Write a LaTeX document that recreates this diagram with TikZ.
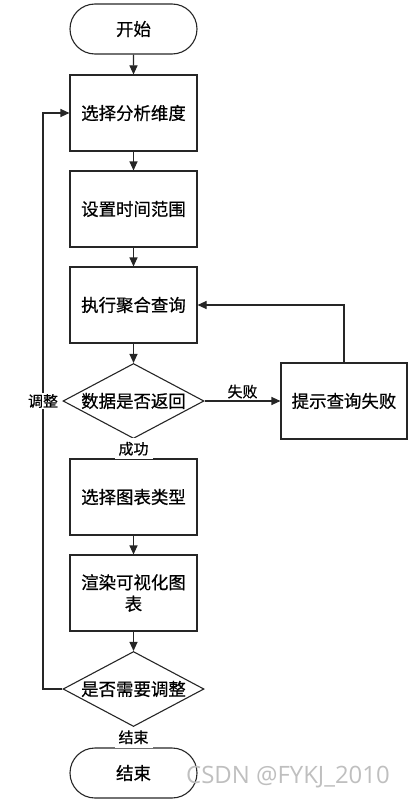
\documentclass[tikz,border=0pt]{standalone}
\usepackage{fontspec}
\newfontfamily\cjk[FakeBold=0.6]{Noto Sans CJK SC}
\newfontfamily\wmfont{Open Sans}
\usetikzlibrary{shapes.geometric,shapes.misc,arrows.meta}
\begin{document}
\begin{tikzpicture}[x=1bp,y=-1bp,
  every node/.style={font=\cjk},
  base/.style={draw=black!85, line width=1.1bp, font=\cjk\fontsize{17.5}{21.5}\selectfont, inner sep=0pt, align=center},
  term/.style={base, rounded rectangle, minimum width=127bp, minimum height=50bp},
  procbox/.style={base, rectangle, minimum width=127bp, minimum height=76bp},
  decide/.style={base, diamond, aspect=1.88, minimum width=141bp, minimum height=75bp, text width=110bp},
  lbl/.style={font=\cjk\fontsize{15}{17}\selectfont, inner sep=1bp, fill=white},
  conn/.style={draw=black!85, line width=1.1bp},
  arr/.style={conn, -{Triangle[length=9bp,width=8bp]}}
]
\useasboundingbox (0,0) rectangle (410,802);
\node[term] (start) at (133.5,29) {开始};
\node[procbox] (b1) at (133.5,113) {选择分析维度};
\node[procbox] (b2) at (133.5,209) {设置时间范围};
\node[procbox] (b3) at (133.5,305) {执行聚合查询};
\node[decide] (d1) at (133.5,401) {数据是否返回};
\node[procbox, minimum width=126bp] (fail) at (344,401) {提示查询失败};
\node[procbox] (b4) at (133.5,497) {选择图表类型};
\node[procbox] (b5) at (133.5,593) {渲染可视化图\\表};
\node[decide] (d2) at (133.5,689) {是否需要调整};
\node[term] (end) at (133.5,773) {结束};
\coordinate (lx) at (43,689);
\coordinate (ly) at (43,113);
\coordinate (fx) at (344,305);

\draw[arr] (start) -- (b1);
\draw[arr] (b1) -- (b2);
\draw[arr] (b2) -- (b3);
\draw[arr] (b3) -- (d1);
\draw[arr] (d1) -- node[lbl, above=1bp, fill=none] {失败} (fail);
\draw[arr] (fail.north) -- (fx) -- (b3.east);
\draw[conn] (d1.south) -- node[lbl, minimum height=21bp, minimum width=38bp] {成功} (b4.north);
\draw[arr] (b4) -- (b5);
\draw[arr] (b5) -- (d2);
\draw[conn] (d2.south) -- node[lbl, minimum height=21bp, minimum width=38bp] {结束} (end.north);
\draw[arr] (d2.west) -- (lx) -- node[lbl, pos=0.5] {调整} (ly) -- (b1.west);
\node[font=\wmfont\fontsize{24}{28}\selectfont, text=black!25, anchor=west, inner sep=0pt] (wm) at (186,777) {CSDN @FYKJ\_2010};
\end{tikzpicture}
\end{document}
